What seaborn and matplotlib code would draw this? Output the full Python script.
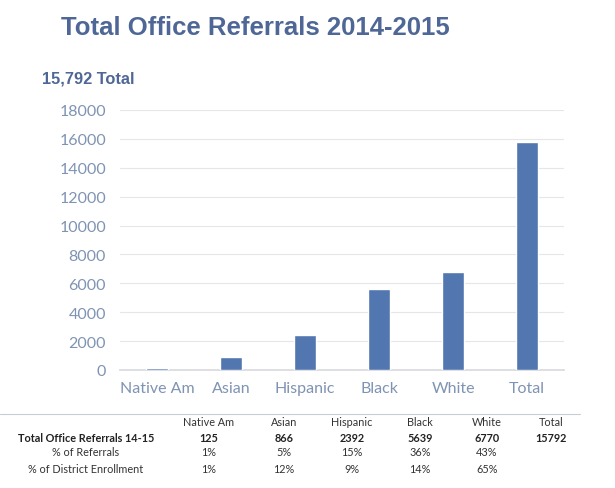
import matplotlib
matplotlib.use("Agg")
import matplotlib.pyplot as plt
import seaborn as sns
import pandas as pd

# data
groups = ["Native Am", "Asian", "Hispanic", "Black", "White", "Total"]
referrals = [125, 866, 2392, 5639, 6770, 15792]
pct_referrals = ["1%", "5%", "15%", "36%", "43%", ""]
pct_enrollment = ["1%", "12%", "9%", "14%", "65%", ""]
yticks = [0, 2000, 4000, 6000, 8000, 10000, 12000, 14000, 16000, 18000]

df = pd.DataFrame({"group": groups, "referrals": referrals})

sns.set_theme(style="white")
plt.rcParams["font.family"] = ["Lato", "DejaVu Sans"]

title_col = "#4f6796"
tick_col = "#7f93b3"
bar_col = "#5276b0"

fig = plt.figure(figsize=(6.15, 4.89), dpi=100)
ax = fig.add_axes([120 / 615, 1 - 371 / 489, 444 / 615, 260 / 489])

sns.barplot(data=df, x="group", y="referrals", color=bar_col, width=0.31,
            saturation=1, ax=ax, zorder=3)
ax.set_ylim(0, 18000)
ax.set_yticks(yticks)
ax.set_xlabel("")
ax.set_ylabel("")
ax.grid(axis="y", color="#e4e6ea", lw=0.8)
ax.set_axisbelow(True)
for s in ["top", "right", "left"]:
    ax.spines[s].set_visible(False)
ax.spines["bottom"].set_color("#d9dbe0")
ax.spines["bottom"].set_zorder(1)
ax.tick_params(axis="both", length=0, colors=tick_col, labelsize=11.5)
ax.tick_params(axis="x", pad=8)
ax.tick_params(axis="y", pad=10)

fig.text(255 / 615, 1 - 28 / 489, "Total Office Referrals 2014-2015", ha="center", va="center",
         fontsize=18.5, fontweight="bold", color=title_col, family=["Liberation Sans"])
fig.text(42 / 615, 1 - 79 / 489, "15,792 Total", ha="left", va="center",
         fontsize=11.8, fontweight="bold", color=title_col, family=["Liberation Sans"])

# summary table below the chart
col_x = [209, 284, 352, 420, 487, 551]
fig.add_artist(plt.Line2D([0, 580 / 615], [1 - 415 / 489] * 2, color="#c8ccd4", lw=0.8))
row_y = [423, 438, 453, 470]
fs = 7.8
for i, g in enumerate(groups):
    x = col_x[i] / 615
    fig.text(x, 1 - row_y[0] / 489, g, ha="center", va="center", fontsize=fs, color="#333333")
    fig.text(x, 1 - row_y[1] / 489, str(referrals[i]), ha="center", va="center",
             fontsize=fs, fontweight="bold", color="#222222")
    fig.text(x, 1 - row_y[2] / 489, pct_referrals[i], ha="center", va="center", fontsize=fs, color="#333333")
    fig.text(x, 1 - row_y[3] / 489, pct_enrollment[i], ha="center", va="center", fontsize=fs, color="#333333")

fig.text(18 / 615, 1 - row_y[1] / 489, "Total Office Referrals 14-15", ha="left", va="center",
         fontsize=fs, fontweight="bold", color="#222222")
fig.text(86 / 615, 1 - row_y[2] / 489, "% of Referrals", ha="center", va="center", fontsize=fs, color="#333333")
fig.text(86 / 615, 1 - row_y[3] / 489, "% of District Enrollment", ha="center", va="center", fontsize=fs, color="#333333")

fig.savefig("out.png", dpi=100)
